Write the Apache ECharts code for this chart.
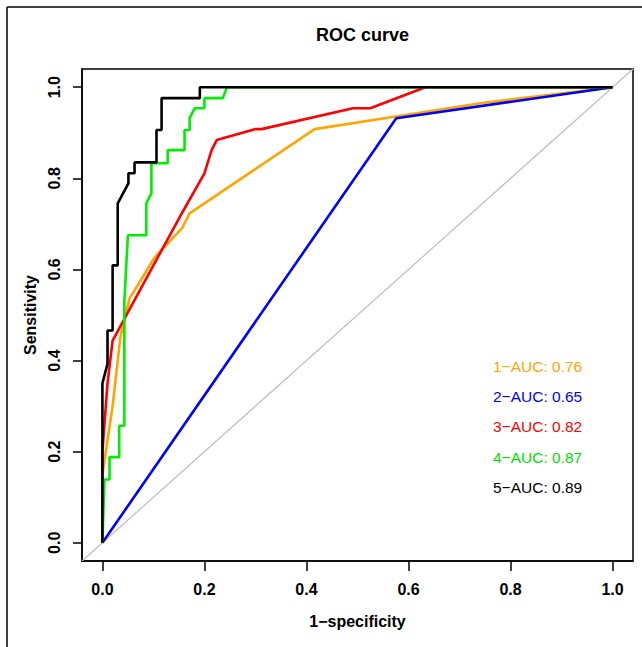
<!DOCTYPE html>
<html>
<head>
<meta charset="utf-8">
<script src="https://cdn.jsdelivr.net/npm/echarts@6/dist/echarts.min.js"></script>
<style>
html,body{margin:0;padding:0;background:#fff;}
#c{width:642px;height:647px;}
</style>
</head>
<body>
<div id="c"></div>
<script>
// ---- data (x = 1-specificity, y = sensitivity) ----
const xTicks = [0, 0.2, 0.4, 0.6, 0.8, 1.0];
const yTicks = [0, 0.2, 0.4, 0.6, 0.8, 1.0];
const seriesNames = ['1−AUC: 0.76', '2−AUC: 0.65', '3−AUC: 0.82', '4−AUC: 0.87', '5−AUC: 0.89'];
const diagonal = [[-0.04, -0.04], [1.04, 1.04]];
const roc1 = [[0,0],[0,0.15],[0.02,0.3],[0.035,0.45],[0.053,0.536],[0.08,0.585],[0.102,0.626],[0.157,0.692],[0.171,0.723],[0.416,0.908],[0.6,0.94],[0.741,0.965],[1,1]];
const roc2 = [[0,0],[0.576,0.932],[1,1]];
const roc3 = [[0,0],[0,0.2],[0.01,0.35],[0.02,0.444],[0.116,0.642],[0.151,0.714],[0.2,0.811],[0.214,0.862],[0.224,0.884],[0.299,0.908],[0.312,0.908],[0.491,0.954],[0.525,0.954],[0.633,1],[1,1]];
const roc4 = [[0,0],[0.004,0.139],[0.014,0.139],[0.014,0.188],[0.033,0.188],[0.033,0.257],[0.043,0.257],[0.043,0.53],[0.05,0.675],[0.086,0.675],[0.086,0.745],[0.096,0.767],[0.096,0.833],[0.128,0.833],[0.128,0.862],[0.161,0.862],[0.161,0.906],[0.171,0.906],[0.171,0.932],[0.181,0.954],[0.2,0.954],[0.2,0.976],[0.236,0.976],[0.244,1],[1,1]];
const roc5 = [[0,0],[0,0.35],[0.01,0.393],[0.01,0.466],[0.02,0.466],[0.02,0.609],[0.03,0.609],[0.03,0.745],[0.051,0.789],[0.051,0.811],[0.063,0.811],[0.063,0.835],[0.106,0.835],[0.106,0.906],[0.116,0.906],[0.116,0.976],[0.191,0.976],[0.191,1],[1,1]];

const rocs = [roc1, roc2, roc3, roc4, roc5];
const colors = ['#FFA500', '#0000FF', '#FF0000', '#00EE00', '#000000'];
const textColors = ['#FFA500', '#0000FF', '#FF0000', '#00DD00', '#000000'];
const FONT = 'Liberation Sans, Arial, Helvetica, sans-serif';

const chart = echarts.init(document.getElementById('c'), null, {renderer: 'svg'});

const series = [{
  type: 'line', data: diagonal, showSymbol: false,
  lineStyle: {color: '#BEBEBE', width: 1.2}, silent: true, animation: false, z: 2
}];
rocs.forEach((d, i) => series.push({
  type: 'line', name: seriesNames[i], data: d, showSymbol: false, clip: true,
  lineStyle: {color: colors[i], width: 2.6}, animation: false, z: 3 + i
}));

const legendTexts = seriesNames.map((n, i) => ({
  type: 'text', left: 493, top: 358 + i * 30.4,
  style: {text: n, fill: textColors[i], font: '15.5px ' + FONT}
}));

const axisCommon = {
  type: 'value', min: -0.04, max: 1.04,
  nameLocation: 'middle',
  nameTextStyle: {fontFamily: FONT, fontWeight: 'bold', fontSize: 16, color: '#000'},
  axisLine: {show: true, onZero: false, lineStyle: {color: '#000', width: 1.5}},
  splitLine: {show: false}
};

chart.setOption({
  animation: false,
  backgroundColor: '#fff',
  title: {
    text: 'ROC curve', left: 357.5, textAlign: 'center', top: 21,
    textStyle: {fontFamily: FONT, fontWeight: 'bold', fontSize: 18, color: '#000'}
  },
  grid: {left: 82, right: 9, top: 69, bottom: 86, show: true, borderColor: '#000', borderWidth: 1.5, backgroundColor: 'transparent'},
  xAxis: Object.assign({}, axisCommon, {
    name: '1−specificity', nameGap: 52,
    axisTick: {show: true, length: 10, customValues: xTicks, lineStyle: {color: '#000', width: 1.5}},
    axisLabel: {margin: 20, customValues: xTicks, fontFamily: FONT, fontWeight: 'bold', fontSize: 16, color: '#000',
      formatter: v => (+v).toFixed(1)}
  }),
  yAxis: Object.assign({}, axisCommon, {
    name: 'Sensitivity', nameGap: 43, nameRotate: 90,
    axisTick: {show: true, length: 9, customValues: yTicks, lineStyle: {color: '#000', width: 1.5}},
    axisLabel: {margin: 20, rotate: 90, customValues: yTicks, fontFamily: FONT, fontWeight: 'bold', fontSize: 16, color: '#000',
      formatter: v => (+v).toFixed(1)}
  }),
  graphic: [
    {type: 'line', shape: {x1: 7, y1: 7, x2: 642, y2: 7}, style: {stroke: '#000', lineWidth: 1.5}},
    {type: 'line', shape: {x1: 7, y1: 7, x2: 7, y2: 647}, style: {stroke: '#000', lineWidth: 1.5}}
  ].concat(legendTexts),
  series: series
});
</script>
</body>
</html>
